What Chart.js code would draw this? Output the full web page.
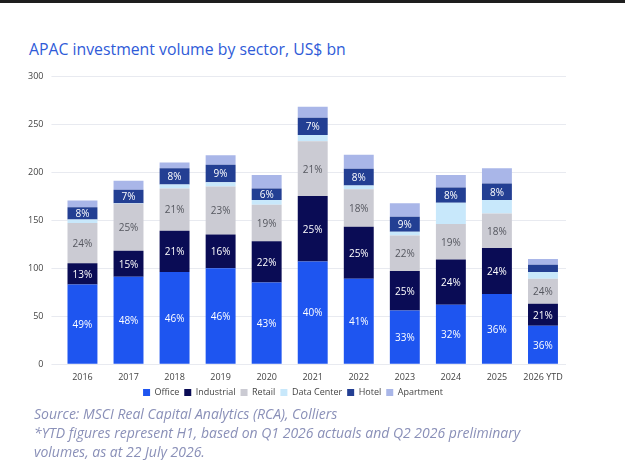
<!DOCTYPE html>
<html>
<head>
<meta charset="utf-8">
<script src="https://cdn.jsdelivr.net/npm/chart.js@4.4.1/dist/chart.umd.min.js"></script>
<style>
    html, body { margin: 0; padding: 0; background: #fff; }
    body { width: 625px; height: 460px; position: relative; overflow: hidden; font-family: "Open Sans", sans-serif; }
    .topbar { position: absolute; left: 0; top: 0; width: 625px; height: 3px; background: #1e1e1e; }
    .title { position: absolute; left: 29px; top: 38px; font-size: 15.8px; color: #2f5bd8; white-space: nowrap; }
    .chartbox { position: absolute; left: 0; top: 60px; width: 625px; height: 347px; }
    .source { position: absolute; left: 34px; top: 404px; font-size: 14px; line-height: 19px; font-style: italic; color: #8a90b8; white-space: nowrap; }
</style>
</head>
<body>
<div class="topbar"></div>
<div class="title">APAC investment volume by sector, US$ bn</div>
<div class="chartbox"><canvas id="myChart"></canvas></div>
<div class="source">Source: MSCI Real Capital Analytics (RCA), Colliers<br>*YTD figures represent H1, based on Q1 2026 actuals and Q2 2026 preliminary<br>volumes, as at 22 July 2026.</div>

<script>
'use strict'

var years = ["2016", "2017", "2018", "2019", "2020", "2021", "2022", "2023", "2024", "2025", "2026 YTD"];

// US$ bn
var office     = [83, 91, 96, 100, 85, 107, 89, 56, 62, 73, 40];
var industrial = [22, 27, 43, 35, 43, 68, 54, 41, 47, 48, 23];
var retail     = [42, 49, 44, 50, 38, 57, 39, 37, 37, 36, 26];
var dataCenter = [3.5, 0.5, 4, 4.5, 5, 6.5, 4, 4, 22, 14, 7];
var hotel      = [13, 14, 17, 18, 12, 18, 17.5, 15.5, 16, 17, 7.5];
var apartment  = [7, 9.5, 6, 10, 14, 11.5, 14.5, 14, 13, 16, 6];

// share labels printed inside the bars
var officeLabels     = ["49%", "48%", "46%", "46%", "43%", "40%", "41%", "33%", "32%", "36%", "36%"];
var industrialLabels = ["13%", "15%", "21%", "16%", "22%", "25%", "25%", "25%", "24%", "24%", "21%"];
var retailLabels     = ["24%", "25%", "21%", "23%", "19%", "21%", "18%", "22%", "19%", "18%", "24%"];
var hotelLabels      = ["8%", "7%", "8%", "9%", "6%", "7%", "8%", "9%", "8%", "8%", ""];

var yTicks = [0, 50, 100, 150, 200, 250, 300];

var segLabels = {
    id: 'segLabels',
    afterDatasetsDraw: function (chart) {
        var ctx = chart.ctx;
        ctx.save();
        ctx.font = '10px "Open Sans"';
        ctx.textAlign = 'center';
        ctx.textBaseline = 'middle';
        chart.data.datasets.forEach(function (ds, i) {
            if (!ds.pctLabels) return;
            var meta = chart.getDatasetMeta(i);
            meta.data.forEach(function (bar, j) {
                var txt = ds.pctLabels[j];
                if (!txt) return;
                ctx.fillStyle = ds.labelColor;
                ctx.fillText(txt, bar.x, (bar.y + bar.base) / 2 + 1);
            });
        });
        ctx.restore();
    }
};

var ctx = document.getElementById("myChart").getContext('2d');
var myChart = new Chart(ctx, {
    type: 'bar',
    data: {
        labels: years,
        datasets: [
            { label: 'Office', data: office, backgroundColor: 'rgb(30, 85, 240)', pctLabels: officeLabels, labelColor: '#ffffff' },
            { label: 'Industrial', data: industrial, backgroundColor: 'rgb(10, 12, 85)', pctLabels: industrialLabels, labelColor: '#ffffff' },
            { label: 'Retail', data: retail, backgroundColor: 'rgb(203, 203, 211)', pctLabels: retailLabels, labelColor: '#55575f' },
            { label: 'Data Center', data: dataCenter, backgroundColor: 'rgb(200, 232, 251)' },
            { label: 'Hotel', data: hotel, backgroundColor: 'rgb(35, 63, 147)', pctLabels: hotelLabels, labelColor: '#ffffff' },
            { label: 'Apartment', data: apartment, backgroundColor: 'rgb(169, 182, 232)' }
        ]
    },
    options: {
        responsive: true,
        maintainAspectRatio: false,
        animation: false,
        layout: { padding: { left: 20, right: 59, top: 16, bottom: 0 } },
        datasets: {
            bar: { categoryPercentage: 1, barPercentage: 0.65, borderWidth: 0 }
        },
        scales: {
            x: {
                stacked: true,
                grid: { display: false },
                border: { display: false },
                ticks: { color: '#444', maxRotation: 0, autoSkip: false, padding: 0, font: { family: 'Open Sans', size: 9 } }
            },
            y: {
                stacked: true,
                min: 0,
                max: 300,
                afterBuildTicks: function (axis) {
                    axis.ticks = yTicks.map(function (v) { return { value: v }; });
                },
                grid: { color: '#e8eaf0', lineWidth: 1 },
                border: { display: false },
                ticks: { color: '#444', padding: 8, font: { family: 'Open Sans', size: 9 } }
            }
        },
        plugins: {
            legend: {
                position: 'bottom',
                labels: {
                    boxWidth: 7,
                    boxHeight: 7,
                    padding: 5,
                    color: '#444',
                    font: { family: 'Open Sans', size: 9 }
                }
            },
            tooltip: { enabled: false }
        }
    },
    plugins: [segLabels]
});
</script>
</body>
</html>
